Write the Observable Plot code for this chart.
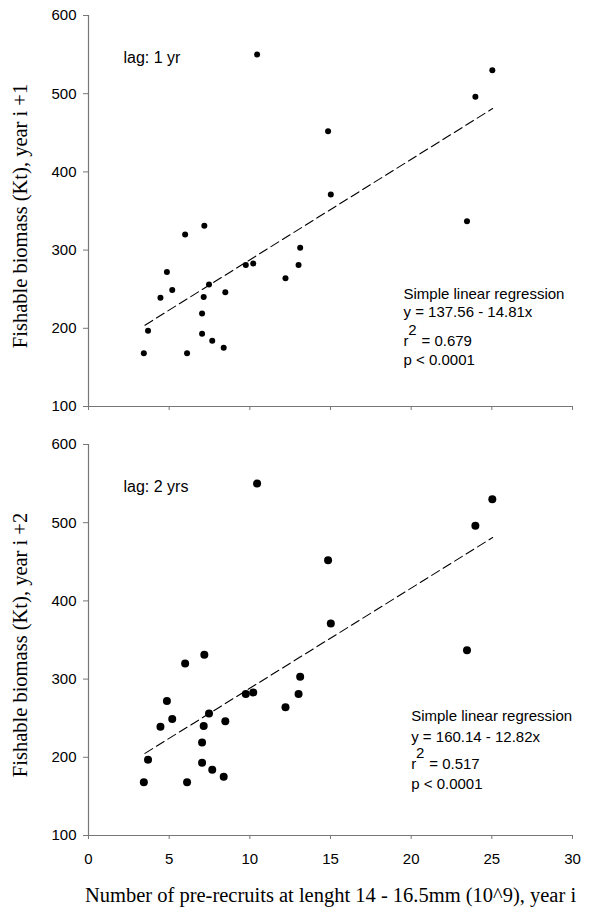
<!DOCTYPE html>
<html><head><meta charset="utf-8">
<script src="https://cdn.jsdelivr.net/npm/d3@7"></script>
<script src="https://cdn.jsdelivr.net/npm/@observablehq/plot@0.6"></script>
<style>body{margin:0;background:#fff} svg{display:block}</style>
</head><body><div id="chart"></div>
<script>
// Data
const recruits = [3.43,3.69,4.46,4.86,5.19,5.99,6.11,7.18,7.04,7.14,7.04,7.47,7.67,8.38,8.48,9.75,10.21,10.45,12.21,13.02,13.12,14.85,15.02,23.46,23.98,25.03];
const biomassLag1 = [168,197,239,272,249,320,168,331,219,240,193,256,184,175,246,281,283,550,264,281,303,452,371,337,496,530];
const biomassLag2 = [168,197,239,272,249,320,168,331,219,240,193,256,184,175,246,281,283,550,264,281,303,452,371,337,496,530];
const fitX = [3.5, 25.05];
const fitLag1 = [204, 481];
const fitLag2 = [205, 481];
const xTicks = [0,5,10,15,20,25,30];
const yTicks = [100,200,300,400,500,600];
const panelLabels = ["lag: 1 yr", "lag: 2 yrs"];
const yTitles = ["Fishable biomass (Kt), year i +1", "Fishable biomass (Kt), year i +2"];
const xTitle = "Number of pre-recruits at lenght 14 - 16.5mm (10^9), year i";
const regTitle = "Simple linear regression";
const equations = ["y = 137.56 - 14.81x", "y = 160.14 - 12.82x"];
const r2Values = ["= 0.679", "= 0.517"];
const pValues = ["p < 0.0001", "p < 0.0001"];

const SANS = "'Liberation Sans', Arial, sans-serif";
const SERIF = "'Liberation Serif', 'Times New Roman', serif";
const AXIS = "#777";

function panel(i, biomass, fit, cfg) {
  const rows = recruits.map((x, k) => ({x, y: biomass[k]}));
  const fitRows = fitX.map((x, k) => ({x, y: fit[k]}));
  const ann = (txt, dx, dy, extra = {}) => Plot.text([txt], {
    frameAnchor: "top-left", text: d => d, dx, dy, textAnchor: "start",
    lineAnchor: "middle", fontSize: 15, fontFamily: SANS, fill: "black", ...extra
  });
  const marks = [
    Plot.ruleX([0], {stroke: AXIS, strokeWidth: 1.2}),
    Plot.ruleY([100], {stroke: AXIS, strokeWidth: 1.2}),
    Plot.axisY({ticks: yTicks, tickSize: 5, tickPadding: 7, stroke: AXIS, fill: "black", label: null, fontSize: 15, fontFamily: SANS}),
    Plot.axisX({ticks: xTicks, tickSize: 4, tickPadding: 14, stroke: AXIS, fill: "black", label: null, fontSize: 15, fontFamily: SANS,
      tickFormat: cfg.showX ? d => String(d) : () => ""}),
    Plot.line(fitRows, {x: "x", y: "y", stroke: "black", strokeWidth: 1.1, strokeDasharray: "9,4.5"}),
    Plot.dot(rows, {x: "x", y: "y", r: cfg.r, fill: "black", stroke: "none"}),
    ann(panelLabels[i], 35, cfg.lagDy, {fontSize: 16}),
    ann(regTitle, cfg.regDx, cfg.regDy[0]),
    ann(equations[i], cfg.regDx, cfg.regDy[1]),
    ann("r", cfg.regDx, cfg.regDy[2]),
    ann("2", cfg.regDx + 4.7, cfg.regDy[2] - 11),
    ann(r2Values[i], cfg.regDx + 18, cfg.regDy[2]),
    ann(pValues[i], cfg.regDx, cfg.regDy[3]),
    Plot.text([yTitles[i]], {frameAnchor: "left", text: d => d, dx: -68, dy: 5, rotate: -90,
      textAnchor: "middle", lineAnchor: "middle", fontSize: 20.5, fontFamily: SERIF, fill: "black"})
  ];
  if (cfg.showX) {
    marks.push(Plot.text([xTitle], {frameAnchor: "bottom", text: d => d, dy: 60, lineAnchor: "middle",
      textAnchor: "middle", fontSize: 20.5, fontFamily: SERIF, fill: "black"}));
  }
  return Plot.plot({
    width: 594, height: cfg.height,
    marginLeft: 88, marginRight: 22, marginTop: cfg.mt, marginBottom: cfg.mb,
    x: {domain: [0, 30]},
    y: {domain: [100, 600]},
    style: {fontFamily: SANS, fontSize: "15px", color: "black", background: "white", overflow: "visible"},
    marks
  });
}

const chart = document.getElementById("chart");
chart.append(panel(0, biomassLag1, fitLag1, {height: 430, mt: 15, mb: 24, r: 3, showX: false,
  lagDy: 42.7, regDx: 315, regDy: [278.3, 296.7, 326, 345]}));
chart.append(panel(1, biomassLag2, fitLag2, {height: 481, mt: 14, mb: 76, r: 4, showX: true,
  lagDy: 42.7, regDx: 322.7, regDy: [272, 293, 320, 340]}));
</script></body></html>
